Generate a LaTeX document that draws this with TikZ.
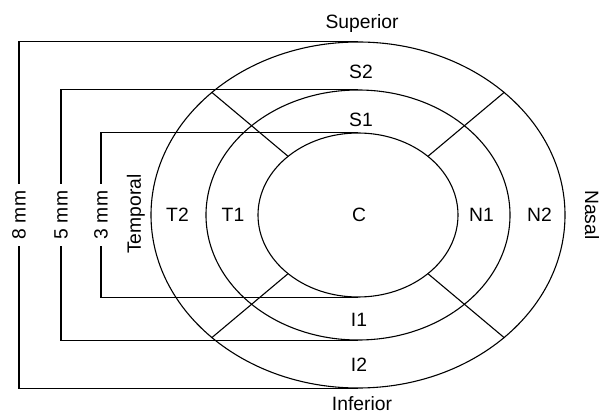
\documentclass[tikz,border=0pt]{standalone}
\usepackage{fontspec}
\setmainfont{Liberation Sans}
\usetikzlibrary{shapes.geometric,positioning}
\tikzset{
  every node/.style={font=\fontsize{19.3}{23}\selectfont},
  ring/.style={draw,ellipse,inner sep=0pt,line width=1.1pt},
  spoke/.style={draw,line width=1.1pt},
  dimln/.style={draw,line width=1.1pt},
  dimlab/.style={rotate=90,fill=white,inner sep=6.5pt},
  zone/.style={inner sep=1pt},
}

\begin{document}
\begin{tikzpicture}[x=1pt,y=1pt]
\useasboundingbox (-358,-199) rectangle (243,215);

% ---- rings ----
\node[ring,minimum width=414pt,minimum height=346pt] (outer) at (0,0) {};
\node[ring,minimum width=304pt,minimum height=250pt] (mid)   at (0,0) {};
\node[ring,minimum width=200pt,minimum height=164pt] (inner) at (0,0) {};

% ---- spokes ----
\foreach \a in {40,140,220,320}
  \draw[spoke] (inner.\a) -- (outer.\a);

% ---- distance brackets ----
\coordinate (m8) at (-339,0);
\coordinate (m5) at (-297,0);
\coordinate (m3) at (-257,0);
\draw[dimln] (outer.north) -- (outer.north-|m8) -- node[dimlab] (l8) {8 mm} (outer.south-|m8) -- (outer.south);
\draw[dimln] (mid.north) -- (mid.north-|m5) -- node[dimlab] (l5) {5 mm} (mid.south-|m5) -- (mid.south);
\draw[dimln] (inner.north) -- (inner.north-|m3) -- node[dimlab] (l3) {3 mm} (inner.south-|m3) -- (inner.south);

% ---- zone labels ----
\node[zone] (c)  at (1,0)      {C};
\node[zone] (s1) at (3,95.5)   {S1};
\node[zone] (s2) at (3,143.5)  {S2};
\node[zone] (i1) at (1,-105)   {I1};
\node[zone] (i2) at (1,-150)   {I2};
\node[zone] (t1) at (-125,0)   {T1};
\node[zone] (t2) at (-180.5,0) {T2};
\node[zone] (n1) at (123.5,0)  {N1};
\node[zone] (n2) at (181.5,0)  {N2};

% ---- sides ----
\node[anchor=base] (sup) at (4,186)   {Superior};
\node[zone,anchor=base] (inf) at (4,-195.5)  {Inferior};
\node[rotate=90]  (tmp) at (-222,1) {Temporal};
\node[zone,rotate=-90] (nas) at (234,0)  {Nasal};

\end{tikzpicture}
\end{document}
